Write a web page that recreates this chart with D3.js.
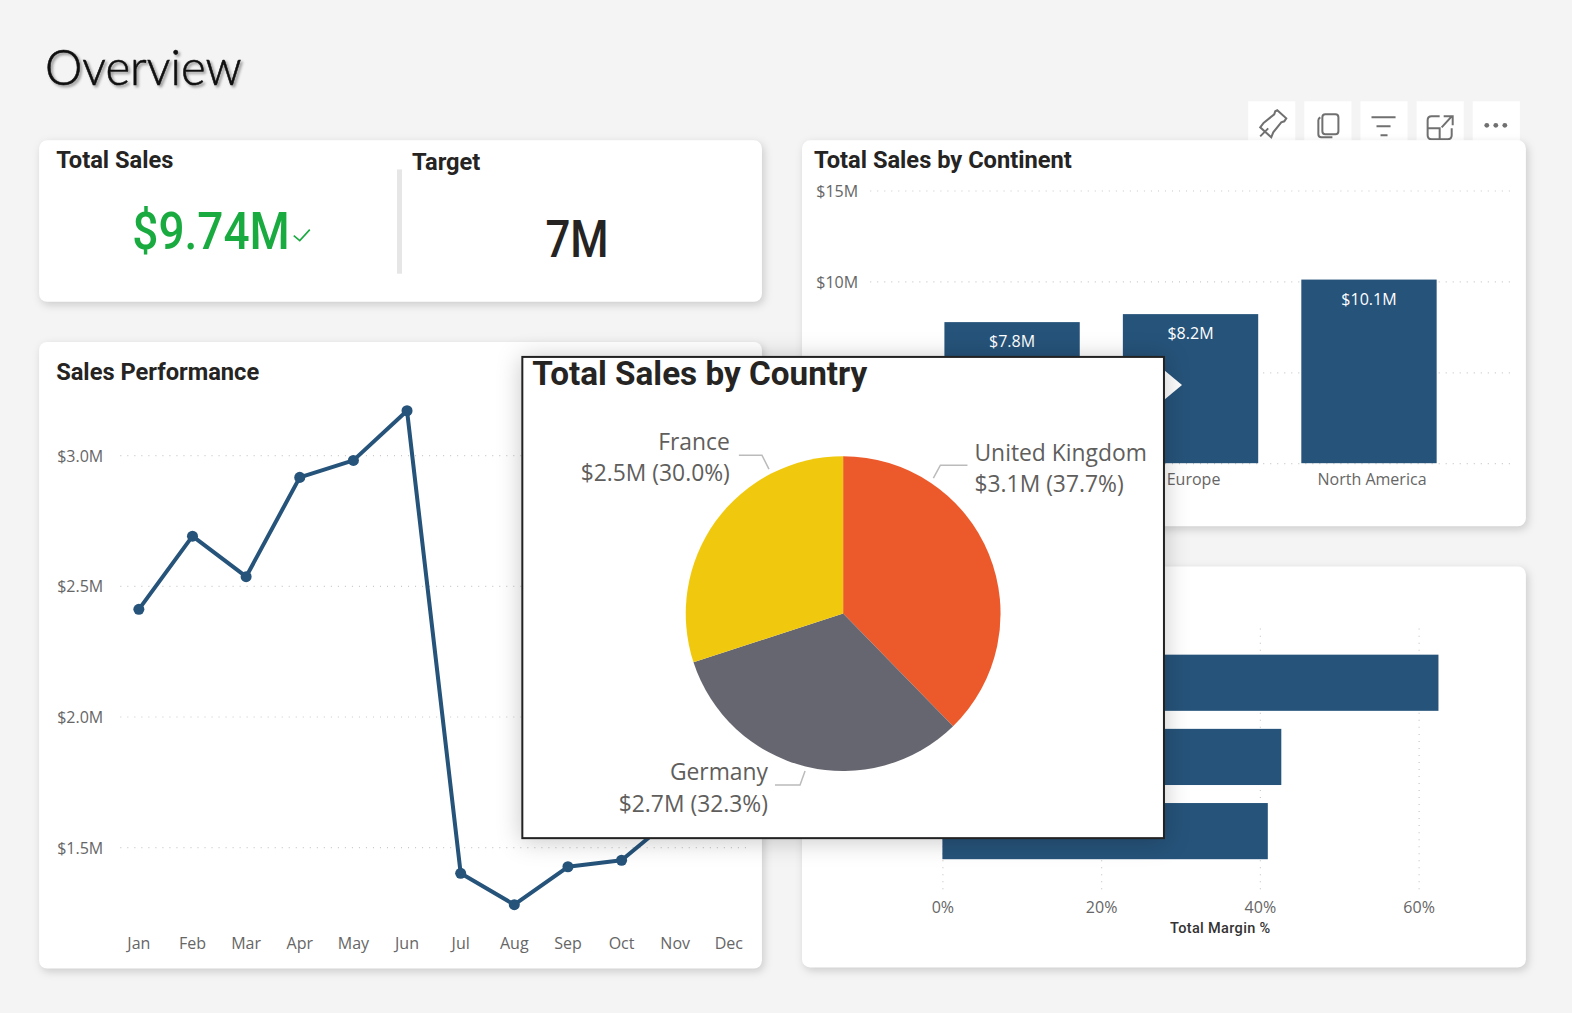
<!DOCTYPE html>
<html>
<head>
<meta charset="utf-8">
<script src="https://cdnjs.cloudflare.com/ajax/libs/d3/7.8.5/d3.min.js"></script>
<style>
  html, body { margin: 0; padding: 0; background: #f4f4f4; overflow: hidden; }
  svg { display: block; }
  text { font-family: "Open Sans", sans-serif; }
  .title { font-family: Roboto, sans-serif; font-weight: 700; fill: #252423; }
  .axis text { fill: #666; font-size: 16px; font-family: "Open Sans", sans-serif; }
  .axis .domain { display: none; }
  .grid line, .axis line { stroke: #c9c9c9; stroke-width: 1.2; stroke-dasharray: 1 6; }
  .card { fill: #fff; filter: drop-shadow(2px 3px 4px rgba(0,0,0,.17)); }
</style>
</head>
<body>
<div id="chart"></div>
<script>
// Values. Nov and Dec sit behind the popup, so they are estimates
const months = ["Jan", "Feb", "Mar", "Apr", "May", "Jun", "Jul", "Aug", "Sep", "Oct", "Nov", "Dec"];
const monthlySales = [2.41, 2.69, 2.535, 2.915, 2.98, 3.17, 1.4, 1.28, 1.425, 1.45, 1.62, 1.9];
const salesTicks = [1.5, 2, 2.5, 3];

// First continent name is covered by the popup
const continents = ["", "Europe", "North America"];
const continentSales = [7.76, 8.2, 10.1];
const continentTicks = [10, 15];
const continentGrid = [0, 5, 10, 15];

const marginValues = [62.5, 42.7, 41];
const marginTicks = [0, 20, 40, 60];

const countries = ["United Kingdom", "Germany", "France"];
const countrySales = [3.14, 2.69, 2.5];
const countryLabels = ["$3.1M (37.7%)", "$2.7M (32.3%)", "$2.5M (30.0%)"];
const countryColors = ["#ec5a2c", "#666670", "#f0c90e"];

const blue = "#26537a";
const svg = d3.select("#chart").append("svg")
    .attr("width", 1572).attr("height", 1013)
    .attr("viewBox", "0 0 1568 1010.4");

// Page title
svg.append("text").attr("x", 45).attr("y", 85)
    .attr("textLength", 196).attr("lengthAdjust", "spacingAndGlyphs")
    .attr("stroke", "#111").attr("stroke-width", 0.6)
    .style("font-family", "Lato, sans-serif").style("font-weight", 300).style("font-size", "49px")
    .style("text-shadow", "2px 2px 3px rgba(0,0,0,.35)").attr("fill", "#111").text("Overview");

// Visual header icons, sit behind the top of the continent card
const iconGroup = svg.append("g").attr("fill", "none").attr("stroke", "#707070").attr("stroke-width", 2);
d3.range(5).forEach(i => {
    const g = iconGroup.append("g").attr("transform", `translate(${1245 + i * 56},101)`);
    g.append("rect").attr("width", 47).attr("height", 42).attr("fill", "#fff").attr("stroke", "none");
    if (i === 0) g.append("path").attr("d", "M12 35l8-8M15 22l11-9 1-3 2-1 9 8-2 3-3 1-8 10-2 5-11-10z");
    if (i === 1) g.append("path").attr("d", "M21 13h10q3 0 3 3v14q0 3-3 3H21q-3 0-3-3V16q0-3 3-3zM16 16q-2 1-2 3v14q0 3 3 3h11");
    if (i === 2) g.append("path").attr("d", "M11 16h24M16 25h14M20 34h7");
    if (i === 3) g.append("path").attr("d", "M23 15H15q-4 0-4 4v15q0 4 4 4h16q4 0 4-4V27M11 27h12v11M25 26l10-11M27 15h9v9");
    if (i === 4) {
        g.selectAll("circle").data([-9, 0, 9]).join("circle")
            .attr("cx", d => 23 + d).attr("cy", 24).attr("r", 2.4)
            .attr("fill", "#707070").attr("stroke", "none");
    }
});

// Cards
const cards = [[39, 140, 721, 161], [39, 341, 721, 625], [800, 140, 722, 385], [800, 565, 722, 400]];
svg.append("g").selectAll("rect").data(cards).join("rect").attr("class", "card")
    .attr("x", d => d[0]).attr("y", d => d[1]).attr("width", d => d[2]).attr("height", d => d[3]).attr("rx", 8);

function title(text, x, y, size) {
    return svg.append("text").attr("class", "title").attr("x", x).attr("y", y)
        .style("font-size", (size || 23.6) + "px").text(text);
}

// KPI card
title("Total Sales", 56, 168);
title("Target", 411, 170);
svg.append("rect").attr("x", 396).attr("y", 169).attr("width", 5).attr("height", 104).attr("fill", "#e6e6e6");
svg.append("text").attr("x", 132).attr("y", 248).attr("fill", "#1aab40")
    .attr("textLength", 157).attr("lengthAdjust", "spacingAndGlyphs")
    .style("font-family", "Roboto, sans-serif").style("font-weight", 500).style("font-size", "52px").text("$9.74M");
svg.append("path").attr("d", "M293 235l6 5 10-11").attr("fill", "none").attr("stroke", "#1aab40").attr("stroke-width", 1.6);
svg.append("text").attr("x", 544).attr("y", 256).attr("fill", "#252423")
    .attr("textLength", 63).attr("lengthAdjust", "spacingAndGlyphs")
    .style("font-family", "Roboto, sans-serif").style("font-weight", 500).style("font-size", "52px").text("7M");

// Sales Performance line
title("Sales Performance", 56, 379);
const xMonth = d3.scalePoint().domain(months).range([138.5, 727]);
const ySales = d3.scaleLinear().domain([1.5, 3]).range([845, 454]);

svg.append("g").attr("class", "axis y-labels").attr("transform", "translate(120,0)")
    .call(d3.axisLeft(ySales).tickValues(salesTicks).tickSize(-630).tickPadding(17).tickFormat(d => `$${d.toFixed(1)}M`));
svg.append("g").attr("class", "axis").attr("transform", "translate(-0.5,928)")
    .call(d3.axisBottom(xMonth).tickSize(0).tickPadding(7));

const line = d3.line().x((d, i) => xMonth(months[i])).y(d => ySales(d));
svg.append("path").datum(monthlySales).attr("d", line)
    .attr("fill", "none").attr("stroke", blue).attr("stroke-width", 4).attr("stroke-linejoin", "round");
svg.append("g").selectAll("circle").data(monthlySales).join("circle")
    .attr("cx", (d, i) => xMonth(months[i])).attr("cy", d => ySales(d)).attr("r", 5.5).attr("fill", blue);

// Total Sales by Continent
title("Total Sales by Continent", 812, 168);
const xCont = d3.scaleBand().domain(continents).range([920.5, 1454.5]).paddingInner(0.2416).paddingOuter(0.1208);
const yCont = d3.scaleLinear().domain([0, 15]).range([462, 190]);

svg.append("g").attr("class", "axis").attr("transform", "translate(868,0)")
    .call(d3.axisLeft(yCont).tickValues(continentGrid).tickSize(-639).tickFormat(""));
svg.append("g").attr("class", "axis y-labels").attr("transform", "translate(868,0)")
    .call(d3.axisLeft(yCont).tickValues(continentTicks).tickSize(0).tickPadding(12).tickFormat(d => `$${d}M`));
svg.append("g").attr("class", "axis").attr("transform", "translate(3,472)")
    .call(d3.axisBottom(xCont).tickSize(0).tickPadding(0));
svg.selectAll(".y-labels text").attr("dy", "0.37em");

svg.append("g").selectAll("rect").data(continentSales).join("rect")
    .attr("x", (d, i) => xCont(continents[i])).attr("y", d => yCont(d))
    .attr("width", xCont.bandwidth()).attr("height", d => yCont(0) - yCont(d)).attr("fill", blue);
svg.append("g").selectAll("text").data(continentSales).join("text")
    .attr("x", (d, i) => xCont(continents[i]) + xCont.bandwidth() / 2).attr("y", d => yCont(d) + 25)
    .attr("text-anchor", "middle").attr("fill", "#fff").style("font-size", "16px").text(d => `$${d.toFixed(1)}M`);

// Total Margin % bars, category names are covered by the popup
const xMargin = d3.scaleLinear().domain([0, 60]).range([940, 1415]);
const yMargin = d3.scaleBand().domain(d3.range(marginValues.length)).range([644, 866]).paddingInner(0.243).paddingOuter(0.1215);

svg.append("g").attr("class", "axis").attr("transform", "translate(0,887)")
    .call(d3.axisBottom(xMargin).tickValues(marginTicks).tickSize(-262).tickPadding(12).tickFormat(d => `${d}%`));
svg.append("g").selectAll("rect").data(marginValues).join("rect")
    .attr("x", xMargin(0)).attr("y", (d, i) => yMargin(i))
    .attr("width", d => xMargin(d) - xMargin(0)).attr("height", yMargin.bandwidth()).attr("fill", blue);
svg.append("text").attr("x", 1167).attr("y", 931).attr("fill", "#333")
    .attr("textLength", 100).attr("lengthAdjust", "spacing")
    .style("font-family", "Roboto, sans-serif").style("font-weight", 500).style("font-size", "14.5px").text("Total Margin %");

// Focused pie popup
svg.append("path").attr("d", "M1161 369l18 15-18 15z").attr("fill", "#fff");
svg.append("rect").attr("x", 521).attr("y", 356).attr("width", 640).attr("height", 480)
    .attr("fill", "#fff").attr("stroke", "#222").attr("stroke-width", 2)
    .style("filter", "drop-shadow(0 2px 12px rgba(0,0,0,.22))");
title("Total Sales by Country", 531, 384, 33.2);

const pie = d3.pie().sort(null)(countrySales);
const arc = d3.arc().innerRadius(0).outerRadius(157);
const pieG = svg.append("g").attr("transform", "translate(841,612)");
pieG.selectAll("path").data(pie).join("path").attr("d", arc).attr("fill", (d, i) => countryColors[i]);

// Label placement around the pie: leader line, then name over value
const pieLabels = [
    { x: 972, y: 460, anchor: "start", leader: "M931 477l7-13h27" },
    { x: 766, y: 778.5, anchor: "end", leader: "M803 769l-5 14h-25" },
    { x: 728, y: 449, anchor: "end", leader: "M767 468l-7-14h-23" }
];
const labelG = svg.append("g").selectAll("g").data(pieLabels).join("g");
labelG.append("path").attr("d", d => d.leader).attr("fill", "none").attr("stroke", "#bbb").attr("stroke-width", 1.5);
labelG.append("text").attr("x", d => d.x).attr("y", d => d.y).attr("text-anchor", d => d.anchor)
    .attr("fill", "#605e5c").style("font-size", "22.8px").text((d, i) => countries[i]);
labelG.append("text").attr("x", d => d.x).attr("y", d => d.y + 31).attr("text-anchor", d => d.anchor)
    .attr("fill", "#605e5c").style("font-size", "22.8px").text((d, i) => countryLabels[i]);
</script>
</body>
</html>
